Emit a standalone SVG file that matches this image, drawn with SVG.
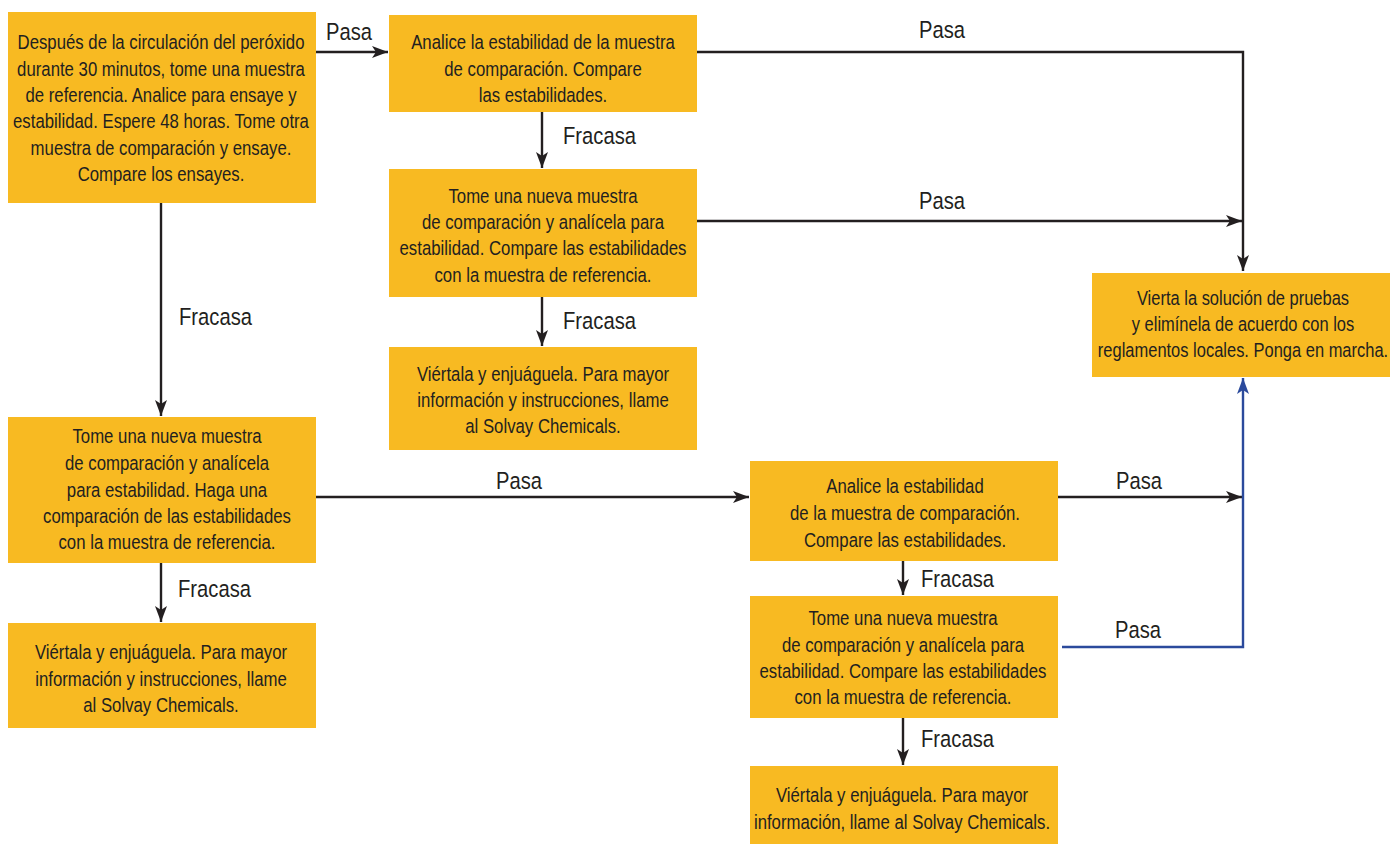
<svg xmlns="http://www.w3.org/2000/svg" width="1390" height="844" viewBox="0 0 1390 844">
<style>
.box{fill:#F8BA22}
.t{font-family:"Liberation Sans",Arial,sans-serif;font-size:19.5px;fill:#231F20;text-anchor:middle}
.lbl{font-family:"Liberation Sans",Arial,sans-serif;font-size:23.5px;fill:#231F20}
.ln{fill:none;stroke:#231F20;stroke-width:2.4}
.lnb{fill:none;stroke:#2B4A9C;stroke-width:2.4}
</style>
<defs>
<marker id="ah" markerUnits="userSpaceOnUse" markerWidth="17" markerHeight="13" refX="16" refY="6" orient="auto" viewBox="0 0 17 13">
<path d="M0,0 L16,6 L0,12 L4,6 Z" fill="#231F20"/>
</marker>
<marker id="ahb" markerUnits="userSpaceOnUse" markerWidth="17" markerHeight="13" refX="16" refY="6" orient="auto" viewBox="0 0 17 13">
<path d="M0,0 L16,6 L0,12 L4,6 Z" fill="#2B4A9C"/>
</marker>
</defs>
<rect width="1390" height="844" fill="#ffffff"/>

<g id="connectors">
<path class="ln" d="M316,52 H388" marker-end="url(#ah)"/>
<path class="ln" d="M697,52 H1243 V271" marker-end="url(#ah)"/>
<path class="ln" d="M697,221 H1242" marker-end="url(#ah)"/>
<path class="ln" d="M542,112 V168" marker-end="url(#ah)"/>
<path class="ln" d="M542,297 V346" marker-end="url(#ah)"/>
<path class="ln" d="M161,203 V416" marker-end="url(#ah)"/>
<path class="ln" d="M161,563 V622" marker-end="url(#ah)"/>
<path class="ln" d="M316,497 H749" marker-end="url(#ah)"/>
<path class="ln" d="M1058,497 H1242" marker-end="url(#ah)"/>
<path class="ln" d="M903,561 V595" marker-end="url(#ah)"/>
<path class="ln" d="M903,718 V765" marker-end="url(#ah)"/>
<path class="lnb" d="M1062,647 H1243 V378" marker-end="url(#ahb)"/>
<g class="lbl">
<text transform="translate(326,40) scale(0.86,1)">Pasa</text>
<text transform="translate(919,38) scale(0.86,1)">Pasa</text>
<text transform="translate(919,209) scale(0.86,1)">Pasa</text>
<text transform="translate(563,144) scale(0.86,1)">Fracasa</text>
<text transform="translate(563,329) scale(0.86,1)">Fracasa</text>
<text transform="translate(179,325) scale(0.86,1)">Fracasa</text>
<text transform="translate(178,597) scale(0.86,1)">Fracasa</text>
<text transform="translate(496,489) scale(0.86,1)">Pasa</text>
<text transform="translate(1116,489) scale(0.86,1)">Pasa</text>
<text transform="translate(1115,638) scale(0.86,1)">Pasa</text>
<text transform="translate(921,587) scale(0.86,1)">Fracasa</text>
<text transform="translate(921,747) scale(0.86,1)">Fracasa</text>
</g>
</g>

<g id="n1">
<rect class="box" x="8" y="12" width="308" height="191"/>
<g transform="translate(161,0) scale(0.86,1)">
<text class="t" x="0" y="49">Después de la circulación del peróxido</text>
<text class="t" x="0" y="76">durante 30 minutos, tome una muestra</text>
<text class="t" x="0" y="102">de referencia. Analice para ensaye y</text>
<text class="t" x="0" y="128">estabilidad. Espere 48 horas. Tome otra</text>
<text class="t" x="0" y="155">muestra de comparación y ensaye.</text>
<text class="t" x="0" y="181">Compare los ensayes.</text>
</g>
</g>

<g id="n2">
<rect class="box" x="389" y="15" width="308" height="97"/>
<g transform="translate(543,0) scale(0.86,1)">
<text class="t" x="0" y="49">Analice la estabilidad de la muestra</text>
<text class="t" x="0" y="76">de comparación. Compare</text>
<text class="t" x="0" y="102">las estabilidades.</text>
</g>
</g>

<g id="n3">
<rect class="box" x="389" y="169" width="308" height="128"/>
<g transform="translate(543,0) scale(0.86,1)">
<text class="t" x="0" y="203">Tome una nueva muestra</text>
<text class="t" x="0" y="229">de comparación y analícela para</text>
<text class="t" x="0" y="255">estabilidad. Compare las estabilidades</text>
<text class="t" x="0" y="282">con la muestra de referencia.</text>
</g>
</g>

<g id="n4">
<rect class="box" x="389" y="347" width="308" height="103"/>
<g transform="translate(543,0) scale(0.86,1)">
<text class="t" x="0" y="381">Viértala y enjuáguela. Para mayor</text>
<text class="t" x="0" y="407">información y instrucciones, llame</text>
<text class="t" x="0" y="433">al Solvay Chemicals.</text>
</g>
</g>

<g id="n5">
<rect class="box" x="8" y="417" width="308" height="146"/>
<g transform="translate(167,0) scale(0.86,1)">
<text class="t" x="0" y="443">Tome una nueva muestra</text>
<text class="t" x="0" y="470">de comparación y analícela</text>
<text class="t" x="0" y="497">para estabilidad. Haga una</text>
<text class="t" x="0" y="523">comparación de las estabilidades</text>
<text class="t" x="0" y="549">con la muestra de referencia.</text>
</g>
</g>

<g id="n6">
<rect class="box" x="8" y="623" width="308" height="105"/>
<g transform="translate(161,0) scale(0.86,1)">
<text class="t" x="0" y="659">Viértala y enjuáguela. Para mayor</text>
<text class="t" x="0" y="686">información y instrucciones, llame</text>
<text class="t" x="0" y="712">al Solvay Chemicals.</text>
</g>
</g>

<g id="n7">
<rect class="box" x="750" y="461" width="308" height="100"/>
<g transform="translate(905,0) scale(0.86,1)">
<text class="t" x="0" y="493">Analice la estabilidad</text>
<text class="t" x="0" y="520">de la muestra de comparación.</text>
<text class="t" x="0" y="547">Compare las estabilidades.</text>
</g>
</g>

<g id="n8">
<rect class="box" x="750" y="596" width="308" height="122"/>
<g transform="translate(903,0) scale(0.86,1)">
<text class="t" x="0" y="625">Tome una nueva muestra</text>
<text class="t" x="0" y="652">de comparación y analícela para</text>
<text class="t" x="0" y="678">estabilidad. Compare las estabilidades</text>
<text class="t" x="0" y="704">con la muestra de referencia.</text>
</g>
</g>

<g id="n9">
<rect class="box" x="750" y="766" width="308" height="78"/>
<g transform="translate(902,0) scale(0.86,1)">
<text class="t" x="0" y="802">Viértala y enjuáguela. Para mayor</text>
<text class="t" x="0" y="829">información, llame al Solvay Chemicals.</text>
</g>
</g>

<g id="n10">
<rect class="box" x="1092" y="273" width="298" height="104"/>
<g transform="translate(1243,0) scale(0.845,1)">
<text class="t" x="0" y="305">Vierta la solución de pruebas</text>
<text class="t" x="0" y="331">y elimínela de acuerdo con los</text>
<text class="t" x="0" y="357">reglamentos locales. Ponga en marcha.</text>
</g>
</g>
</svg>
